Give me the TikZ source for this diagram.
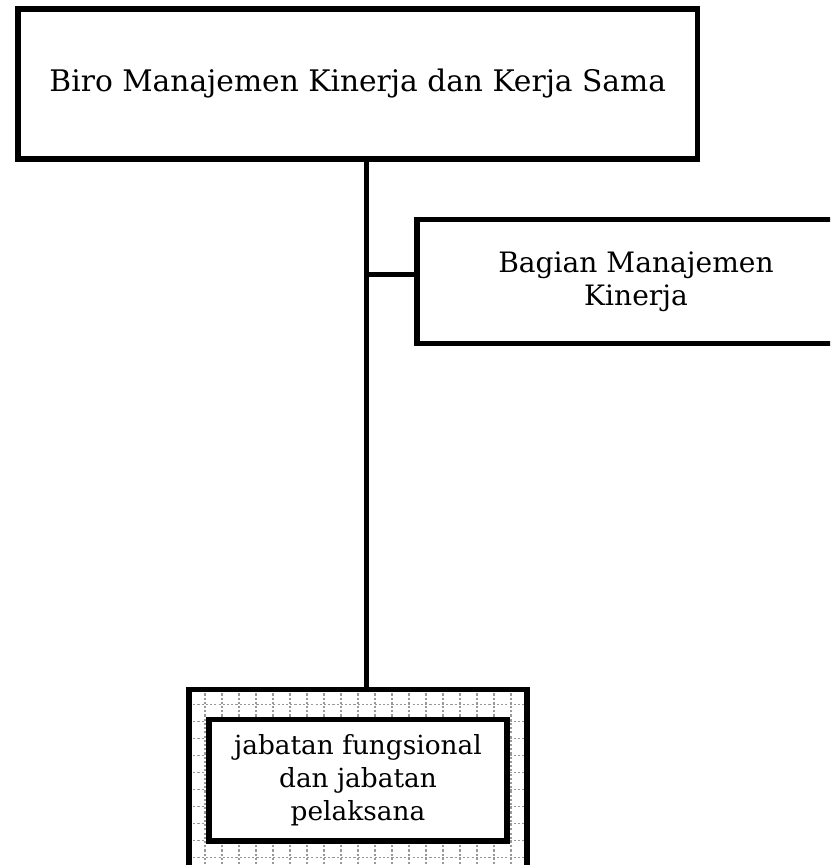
\documentclass[tikz,border=0pt]{standalone}
\usepackage{fontspec}
\setmainfont{DejaVu Serif}
\usepackage{tikz}
\usetikzlibrary{positioning}

\tikzset{
  unit/.style={draw, line width=3pt, align=center, inner sep=0pt,
    font=\fontsize{16.9}{19.2}\selectfont},
  link/.style={line width=3pt}
}

\begin{document}
\begin{tikzpicture}
        \useasboundingbox (0,0) rectangle (16.6,-17.3);
        \clip (0,0) rectangle (16.6,-17.3);

        \node[unit, minimum width=13.59cm, minimum height=3cm] (biro) at (7.155,-1.68)
          {Biro Manajemen Kinerja dan Kerja Sama};
        \node[unit, minimum width=8.76cm, minimum height=2.48cm,
          font=\fontsize{16}{19}\selectfont] (bagian) at (12.72,-5.63)
          {Bagian Manajemen\\Kinerja};

        % pool of functional staff
        \node[unit, minimum width=6.76cm, minimum height=4cm, fill=white,
          path picture={\draw[gray!80, line width=0.6pt, dash pattern=on 1.2pt off 1.2pt, step=0.34]
            (path picture bounding box.south west) grid (path picture bounding box.north east);}]
          (pool) at (7.16,-15.79) {};
        \node[unit, fill=white, minimum width=5.96cm, minimum height=2.43cm,
          font=\fontsize{15}{18.7}\selectfont] (jabatan) at (7.16,-15.605)
          {jabatan fungsional\\dan jabatan\\pelaksana};

        \coordinate (trunk) at (7.33,-5.49);
        \draw[link] (trunk |- biro.south) -- (trunk |- pool.north);
        \draw[link] (trunk) -- (trunk -| bagian.west);
\end{tikzpicture}
\end{document}
